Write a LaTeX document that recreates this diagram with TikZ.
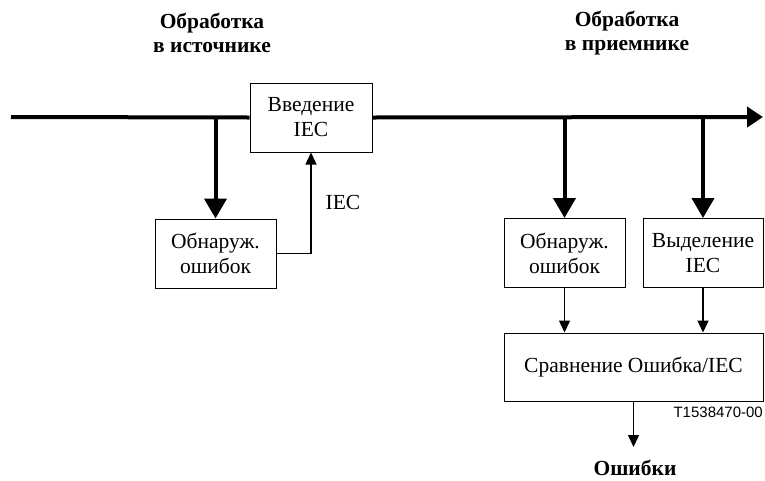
\documentclass[tikz,border=0pt]{standalone}
\usepackage{fontspec}
\setmainfont{Liberation Serif}
\newfontfamily\labelsans{Liberation Sans}
\usetikzlibrary{arrows.meta}
\begin{document}
\begin{tikzpicture}[x=1pt,y=-1pt,
  box/.style={draw,line width=1pt,fill=white,align=center,inner sep=0pt,
    font=\fontsize{21.5}{25}\selectfont},
  heading/.style={align=center,font=\fontsize{21.5}{24}\selectfont\bfseries},
  busline/.style={line width=4pt},
  thickarrow/.style={line width=4pt,-{Triangle[length=20pt,width=22pt]}},
  thinarrow/.style={line width=1.4pt,-{Triangle[length=12pt,width=11pt]}}]
\useasboundingbox (0,0) rectangle (765,480);

% headings
\node[heading] (hsrc) at (212,33) {Обработка\\в источнике};
\node[heading] (hdst) at (627,33) {Обработка\\в приемнике};

% blocks
\node[box,minimum width=122pt,minimum height=69pt] (inj) at (311,117.5) {Введение\\IEC};
\node[box,minimum width=121pt,minimum height=69pt] (det1) at (215.5,253.5) {Обнаруж.\\ошибок};
\node[box,minimum width=121pt,minimum height=69pt] (det2) at (564.5,253) {Обнаруж.\\ошибок};
\node[box,minimum width=120pt,minimum height=69pt] (ext) at (703,253) {Выделение\\IEC};
\node[box,minimum width=259pt,minimum height=68pt] (cmp) at (633.5,367) {Сравнение Ошибка/IEC};

% main signal path
\coordinate (start) at (11,117);
\coordinate (end) at (763,117);
\draw[busline] (start) -- (inj.west);
\draw[busline,-{Triangle[length=16pt,width=20pt]}] (inj.east) -- (end);

% taps from the main path
\draw[thickarrow] (det1.north |- start) -- (det1.north);
\draw[thickarrow] (det2.north |- start) -- (det2.north);
\draw[thickarrow] (ext.north |- start) -- (ext.north);

% IEC feedback at the source
\draw[thinarrow] (det1.east) -| (inj.south);
\node[font=\fontsize{21.5}{24}\selectfont] (ieclbl) at (343,202) {IEC};

% receiver comparison
\draw[thinarrow] (det2.south) -- (det2.south |- cmp.north);
\draw[thinarrow] (ext.south) -- (ext.south |- cmp.north);
\coordinate (out) at (633.5,447);
\draw[thinarrow] (cmp.south) -- (out);
\node[font=\fontsize{21.5}{24}\selectfont\bfseries] (errs) at (635,468) {Ошибки};

\node[anchor=east,inner sep=0pt,font=\fontsize{15}{18}\selectfont\labelsans] (code) at (763,412) {T1538470-00};
\end{tikzpicture}
\end{document}
